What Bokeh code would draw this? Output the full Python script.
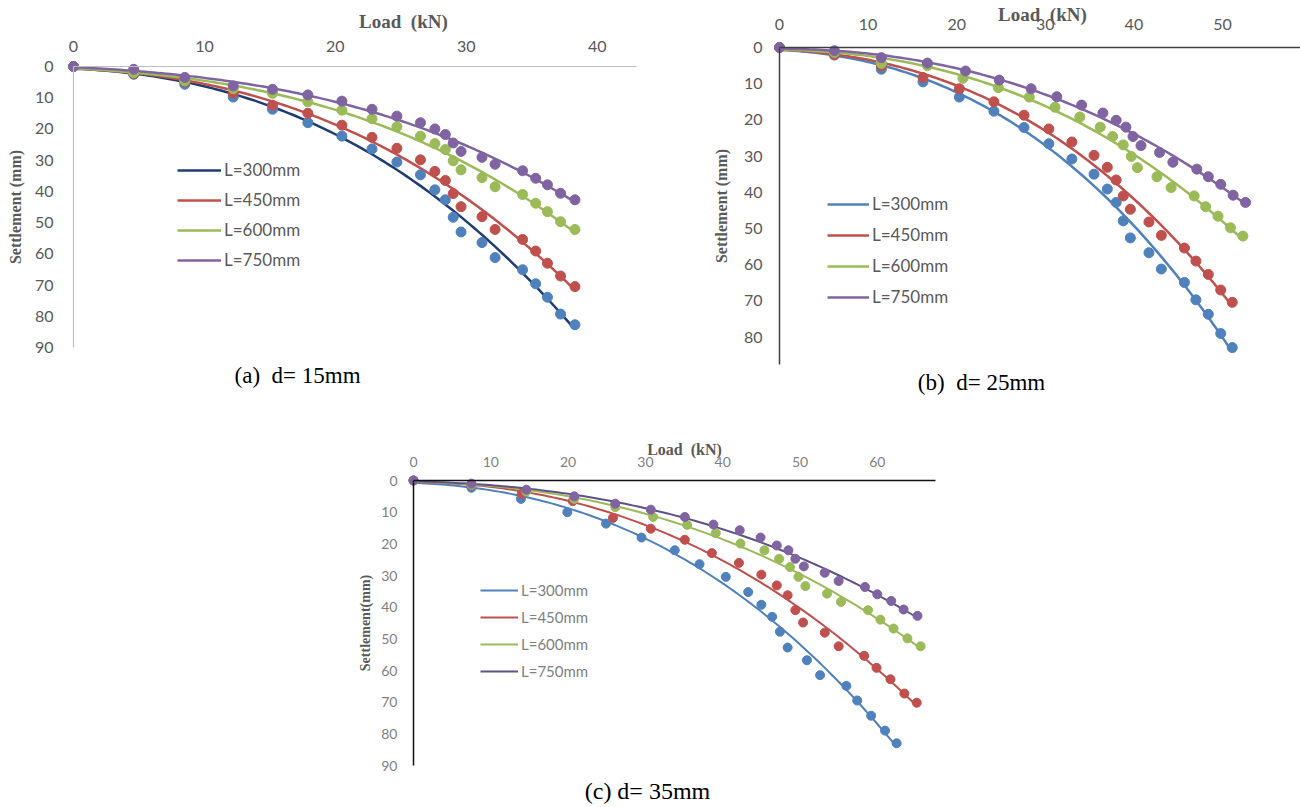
import numpy as np
from bokeh.plotting import figure
from bokeh.models import Range1d, FixedTicker, Label, Legend, LegendItem, Spacer, LinearAxis
from bokeh.layouts import column, row
from bokeh.embed import file_html
from bokeh.resources import INLINE

series_names = ["L=300mm", "L=450mm", "L=600mm", "L=750mm"]

# ---------------- Panel (a) d = 15 mm ----------------
loads_a = [0, 4.6, 8.5, 12.2, 15.2, 17.9, 20.5, 22.8, 24.7, 26.5, 27.6, 28.4, 29.0, 29.6, 31.2, 32.2, 34.3, 35.3, 36.2, 37.2, 38.3]
a_300 = [0, 2.5, 5.7, 9.8, 13.7, 18.0, 22.3, 26.4, 30.6, 34.7, 39.5, 42.7, 48.3, 53.0, 56.4, 61.2, 65.1, 69.6, 73.9, 79.3, 82.7]
a_450 = [0, 2.3, 4.9, 8.5, 12.4, 15.0, 18.8, 22.7, 26.2, 29.9, 33.6, 36.5, 40.7, 44.9, 48.1, 52.2, 55.4, 59.1, 63.0, 67.1, 70.5]
a_600 = [0, 2.0, 4.6, 7.1, 8.6, 11.3, 14.0, 16.7, 19.3, 22.3, 24.7, 26.6, 30.2, 33.1, 35.6, 38.5, 41.0, 43.8, 46.5, 49.7, 52.2]
a_750 = [0, 0.9, 3.5, 6.2, 7.3, 9.1, 11.1, 13.7, 15.9, 18.0, 20.0, 21.8, 24.5, 27.2, 29.1, 31.3, 33.4, 35.8, 37.9, 40.6, 42.7]

# ---------------- Panel (b) d = 25 mm ----------------
b_x300 = [0, 6.2, 11.5, 16.2, 20.3, 24.2, 27.6, 30.4, 33.0, 35.5, 37.0, 38.0, 38.8, 39.6, 41.7, 43.1, 45.7, 47.0, 48.4, 49.8, 51.1]
b_300 = [0, 2.1, 6.0, 9.5, 13.7, 17.6, 22.1, 26.6, 30.8, 35.0, 39.1, 42.8, 47.9, 52.6, 56.7, 61.2, 64.9, 69.7, 73.7, 79.0, 82.9]
b_x450 = [0, 6.2, 11.5, 16.2, 20.3, 24.2, 27.6, 30.4, 33.0, 35.5, 37.0, 38.0, 38.8, 39.6, 41.7, 43.1, 45.7, 47.0, 48.4, 49.8, 51.1]
b_450 = [0, 1.9, 5.1, 8.3, 11.4, 15.0, 18.7, 22.5, 26.1, 29.8, 33.1, 36.6, 41.0, 44.7, 48.2, 51.9, 55.4, 59.0, 62.7, 67.0, 70.4]
b_x600 = [0, 6.2, 11.5, 16.7, 20.7, 24.7, 28.2, 31.1, 33.9, 36.2, 37.6, 38.8, 39.7, 40.4, 42.6, 44.2, 46.8, 48.1, 49.5, 50.9, 52.3]
b_600 = [0, 1.4, 4.4, 5.0, 8.5, 11.1, 13.7, 16.5, 19.2, 22.0, 24.6, 26.9, 30.1, 33.2, 35.7, 38.7, 41.0, 44.0, 46.6, 49.8, 52.1]
b_x750 = [0, 6.2, 11.5, 16.7, 21.0, 24.8, 28.4, 31.3, 34.1, 36.5, 38.0, 39.1, 39.9, 40.8, 42.9, 44.4, 47.1, 48.4, 49.8, 51.2, 52.6]
b_750 = [0, 0.9, 2.8, 4.3, 6.5, 9.0, 11.4, 13.6, 15.9, 18.1, 20.1, 22.0, 24.6, 27.1, 29.0, 31.7, 33.6, 35.7, 37.8, 40.8, 42.8]

# ---------------- Panel (c) d = 35 mm ----------------
c_x300 = [0, 7.5, 13.9, 19.9, 24.9, 29.5, 33.8, 37.0, 40.4, 43.3, 45.0, 46.4, 47.4, 48.4, 50.9, 52.6, 56.0, 57.4, 59.2, 61.0, 62.5]
c_300 = [0, 2.3, 5.8, 10.0, 13.6, 18.0, 22.0, 26.4, 30.4, 35.2, 39.2, 43.0, 47.7, 52.7, 56.7, 61.4, 64.8, 69.4, 74.2, 78.9, 82.9]
c_x450 = [0, 7.5, 14.0, 20.6, 25.8, 30.7, 35.1, 38.6, 42.1, 45.0, 47.0, 48.4, 49.4, 50.4, 53.2, 55.0, 58.3, 59.9, 61.7, 63.5, 65.1]
c_450 = [0, 1.6, 4.2, 6.5, 11.8, 15.2, 18.7, 22.9, 26.0, 29.7, 33.1, 36.2, 40.9, 44.8, 48.0, 52.3, 55.3, 59.1, 62.7, 67.2, 70.1]
c_x600 = [0, 7.5, 14.6, 20.8, 26.1, 31.0, 35.4, 39.1, 42.3, 45.4, 47.3, 48.7, 49.8, 50.7, 53.5, 55.3, 58.8, 60.4, 62.1, 63.9, 65.6]
c_600 = [0, 1.4, 3.5, 5.8, 8.4, 11.5, 14.0, 16.6, 19.9, 22.0, 24.7, 27.3, 30.4, 33.3, 35.7, 38.3, 40.9, 43.9, 46.7, 49.8, 52.3]
c_x750 = [0, 7.5, 14.6, 20.8, 26.1, 30.7, 35.1, 38.8, 42.2, 44.9, 47.0, 48.5, 49.4, 50.5, 53.2, 55.0, 58.4, 60.0, 61.8, 63.4, 65.2]
c_750 = [0, 1.0, 2.9, 5.0, 7.3, 9.2, 11.5, 13.9, 15.7, 18.0, 20.5, 22.0, 24.7, 27.1, 29.1, 31.7, 33.6, 35.9, 38.0, 40.7, 42.7]

xticks_a = [0, 10, 20, 30, 40]
yticks_a = [0, 10, 20, 30, 40, 50, 60, 70, 80, 90]
xticks_b = [0, 10, 20, 30, 40, 50]
yticks_b = [0, 10, 20, 30, 40, 50, 60, 70, 80]
xticks_c = [0, 10, 20, 30, 40, 50, 60]
yticks_c = [0, 10, 20, 30, 40, 50, 60, 70, 80, 90]

captions = ["(a)\u00a0\u00a0d= 15mm", "(b)\u00a0\u00a0d= 25mm", "(c) d= 35mm"]
x_title = "Load\u00a0\u00a0(kN)"
y_title_ab = "Settlement (mm)"
y_title_c = "Settlement(mm)"

marker_colors = ["#4F81BD", "#C0504D", "#9BBB59", "#8064A2"]
TICK_FONT = "Lato"
TITLE_FONT = "Liberation Serif"
GRAY = "#595959"


def make_panel(cfg, xs, ys, line_colors):
    p = figure(width=cfg["w"], height=cfg["h"], output_backend="svg", toolbar_location=None,
               x_range=Range1d(*cfg["xr"]), y_range=Range1d(*cfg["yr"]),
               x_axis_type=None, y_axis_type=None, min_border=0)
    p.outline_line_color = None
    p.background_fill_color = None
    p.border_fill_color = None

    xax = LinearAxis(fixed_location=0, bounds=cfg["xbounds"])
    yax = LinearAxis(fixed_location=0, bounds=cfg["ybounds"])
    p.add_layout(xax, "above")
    p.add_layout(yax, "left")
    for ax, ticks, st in ((xax, cfg["xticks"], cfg["xst"]), (yax, cfg["yticks"], cfg["yst"])):
        ax.ticker = FixedTicker(ticks=ticks)
        ax.axis_line_color = cfg["axis_color"]
        ax.axis_line_width = cfg["axis_width"]
        ax.major_tick_line_color = None
        ax.minor_tick_line_color = None
        ax.major_tick_out = 0
        ax.major_tick_in = 0
        ax.major_label_text_font = TICK_FONT
        ax.major_label_text_font_size = cfg["tick_size"]
        ax.major_label_text_color = cfg["tick_color"]
        ax.major_label_standoff = st
    yax.axis_label = cfg["ylab"]
    yax.axis_label_text_font = TITLE_FONT
    yax.axis_label_text_font_style = "bold"
    yax.axis_label_text_font_size = cfg["ylab_size"]
    yax.axis_label_text_color = GRAY
    yax.axis_label_standoff = cfg["ylab_st"]

    items = []
    for i in range(4):
        x = np.array(xs[i], dtype=float)
        y = np.array(ys[i], dtype=float)
        # cubic trend line fitted to the measured points (as in the source chart)
        coef = np.polyfit(x, y, 3)
        xf = np.linspace(0, x.max(), 120)
        yf = np.polyval(coef, xf)
        r = p.line(xf, yf, line_color=line_colors[i], line_width=cfg["lw"])
        items.append(LegendItem(label=series_names[i], renderers=[r]))
    for i in range(4):
        p.scatter(xs[i], ys[i], size=cfg["msize"], marker="circle",
                  fill_color=marker_colors[i], line_color=marker_colors[i])

    leg = Legend(items=items, location=cfg["leg_loc"], orientation="vertical",
                 border_line_color=None, background_fill_alpha=0,
                 padding=0, margin=0, spacing=cfg["leg_sp"],
                 glyph_width=cfg["glyph_w"], glyph_height=20, label_height=20,
                 label_standoff=3, label_text_font=TICK_FONT,
                 label_text_font_size=cfg["leg_font"], label_text_color=cfg["tick_color"],
                 label_text_baseline="middle")
    p.add_layout(leg)

    p.add_layout(Label(x=cfg["load_pos"][0], y=cfg["load_pos"][1], text=x_title,
                       text_align="center", text_baseline="middle",
                       text_font=TITLE_FONT, text_font_style="bold",
                       text_font_size=cfg["load_size"], text_color=GRAY))
    p.add_layout(Label(x=cfg["cap_pos"][0], y=cfg["cap_pos"][1], text=cfg["caption"],
                       text_align="center", text_baseline="middle",
                       text_font=TITLE_FONT, text_font_size=cfg["cap_size"],
                       text_color="#000000"))
    return p


cfg_a = dict(w=700, h=395, xr=(-5.5755, 47.888), yr=(105.374, -21.139),
             xbounds=(0, 43.0), ybounds=(0, 90), xticks=xticks_a, yticks=yticks_a,
             xst=15, yst=20, axis_color="#BFBFBF", axis_width=1.2,
             tick_size="16px", tick_color=GRAY, ylab=y_title_ab, ylab_size="16px", ylab_st=8,
             lw=2.5, msize=10, leg_loc=(177, 125), leg_sp=9, glyph_w=44, leg_font="17px",
             load_pos=(25.2, -14.41), load_size="19px",
             caption=captions[0], cap_pos=(17.11, 98.97), cap_size="23px")

cfg_b = dict(w=600, h=395, xr=(-8.916, 58.804), yr=(96.133, -12.983),
             xbounds=(0, 58.804), ybounds=(0, 87.6), xticks=xticks_b, yticks=yticks_b,
             xst=17, yst=17, axis_color="#404040", axis_width=1.5,
             tick_size="16px", tick_color=GRAY, ylab=y_title_ab, ylab_size="16px", ylab_st=11,
             lw=2.5, msize=10, leg_loc=(127, 88), leg_sp=10, glyph_w=42, leg_font="17px",
             load_pos=(29.68, -9.12), load_size="19px",
             caption=captions[1], cap_pos=(22.80, 92.54), cap_size="23px")

cfg_c = dict(w=610, h=411, xr=(-8.150, 70.763), yr=(102.839, -26.814),
             xbounds=(0, 67.5), ybounds=(0, 90), xticks=xticks_c, yticks=yticks_c,
             xst=14, yst=16, axis_color="#111111", axis_width=1.5,
             tick_size="14px", tick_color="#7F7F7F", ylab=y_title_c, ylab_size="14px", ylab_st=5,
             lw=2, msize=9, leg_loc=(130, 125), leg_sp=7, glyph_w=38, leg_font="15px",
             load_pos=(35.06, -9.78), load_size="16px",
             caption=captions[2], cap_pos=(30.27, 97.9), cap_size="24px")

pa = make_panel(cfg_a, [loads_a] * 4, [a_300, a_450, a_600, a_750],
                ["#1F3D73", "#C0504D", "#9BBB59", "#8064A2"])
pb = make_panel(cfg_b, [b_x300, b_x450, b_x600, b_x750], [b_300, b_450, b_600, b_750],
                ["#4F81BD", "#C0504D", "#9BBB59", "#8064A2"])
pc = make_panel(cfg_c, [c_x300, c_x450, c_x600, c_x750], [c_300, c_450, c_600, c_750],
                ["#4F81BD", "#C0504D", "#9BBB59", "#5F5289"])

layout = column(row(pa, pb), row(Spacer(width=350, height=411), pc))

open("out.html", "w").write(file_html(layout, INLINE))
